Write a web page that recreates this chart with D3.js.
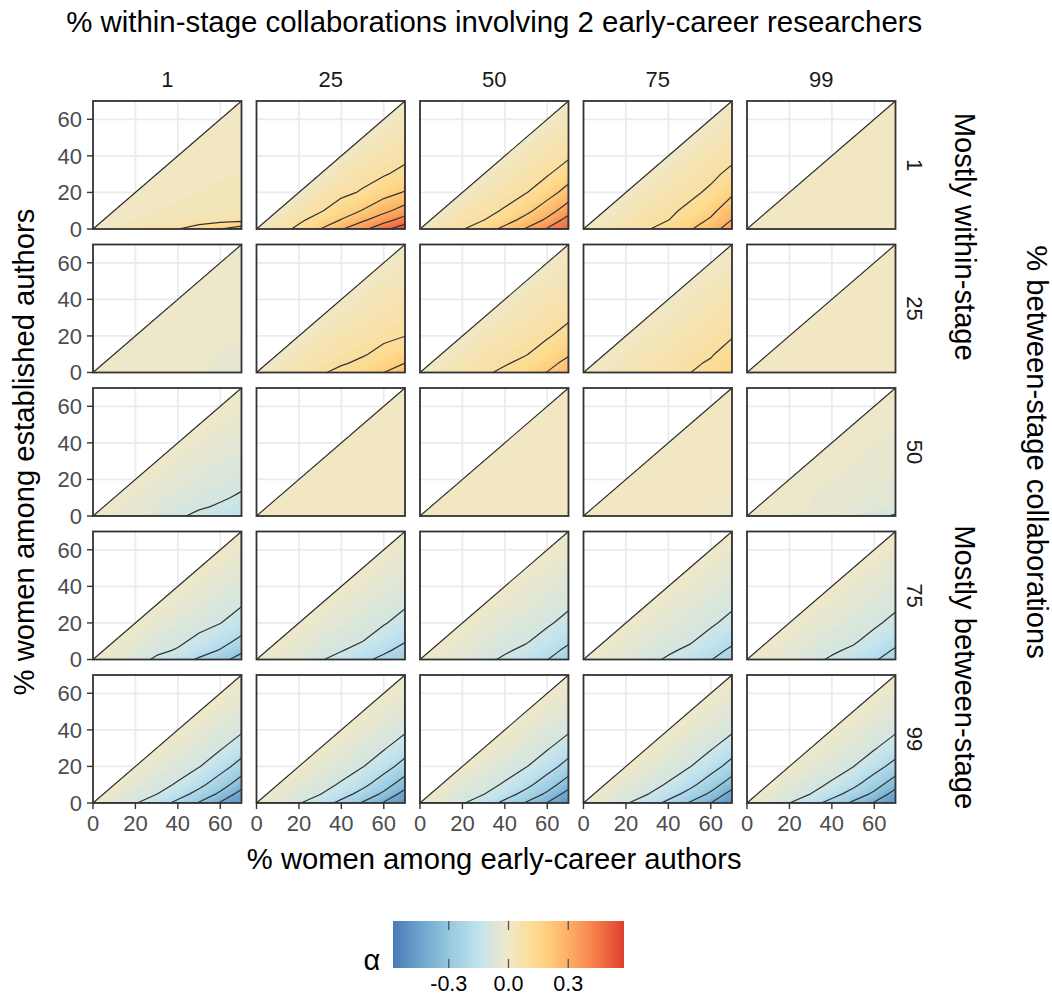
<!DOCTYPE html>
<html>
<head>
<meta charset="utf-8">
<script src="https://cdn.jsdelivr.net/npm/d3@7"></script>
<style>
body { margin: 0; background: #fff; }
text { font-family: "Liberation Sans", Arial, sans-serif; }
</style>
</head>
<body>
<div id="chart"></div>
<script>
// facet levels
var withinLevels = ["1", "25", "50", "75", "99"];
var betweenLevels = ["1", "25", "50", "75", "99"];
var xTicks = [0, 20, 40, 60];
var yTicks = [0, 20, 40, 60];
var legendTicks = [-0.3, 0.0, 0.3];
var contourLevels = [-0.5, -0.4, -0.3, -0.2, -0.1, 0.1, 0.2, 0.3, 0.4, 0.5];

var xGrid = [0, 10, 20, 30, 40, 50, 60, 70];
var yGrid = [0, 5, 10, 20, 30, 40, 50, 60, 70];

// alpha, one row per yGrid value, holding the x values >= y (up to 70)
// b = % between-stage row, w = % within-stage column
var b1_w1 = [[0, 0.024, 0.049, 0.073, 0.098, 0.147, 0.2, 0.26],
	[0.01, 0.02, 0.03, 0.04, 0.05, 0.06, 0.07],
	[0, 0.012, 0.02, 0.025, 0.03, 0.035, 0.04],
	[0, 0.01, 0.015, 0.02, 0.025, 0.03],
	[0, 0.01, 0.015, 0.017, 0.02],
	[0, 0.008, 0.012, 0.015],
	[0, 0.006, 0.01],
	[0, 0.005],
	[0]];
var b1_w2 = [[0, 0.058, 0.122, 0.2, 0.293, 0.373, 0.477, 0.56],
	[0.029, 0.082, 0.139, 0.204, 0.283, 0.358, 0.442],
	[0, 0.055, 0.091, 0.149, 0.205, 0.275, 0.344],
	[0, 0.046, 0.078, 0.109, 0.162, 0.207],
	[0, 0.039, 0.069, 0.092, 0.128],
	[0, 0.034, 0.061, 0.076],
	[0, 0.031, 0.05],
	[0, 0.026],
	[0]];
var b1_w3 = [[0, 0.048, 0.095, 0.156, 0.225, 0.309, 0.41, 0.49],
	[0.024, 0.071, 0.097, 0.16, 0.231, 0.317, 0.44],
	[0, 0.048, 0.077, 0.108, 0.175, 0.255, 0.355],
	[0, 0.039, 0.068, 0.096, 0.16, 0.239],
	[0, 0.034, 0.064, 0.092, 0.154],
	[0, 0.032, 0.062, 0.086],
	[0, 0.031, 0.058],
	[0, 0.029],
	[0]];
var b1_w4 = [[0, 0.031, 0.062, 0.093, 0.139, 0.19, 0.26, 0.35],
	[0.016, 0.047, 0.078, 0.098, 0.154, 0.211, 0.302],
	[0, 0.031, 0.062, 0.084, 0.119, 0.176, 0.26],
	[0, 0.031, 0.056, 0.08, 0.116, 0.184],
	[0, 0.028, 0.053, 0.08, 0.123],
	[0, 0.027, 0.053, 0.078],
	[0, 0.027, 0.052],
	[0, 0.026],
	[0]];
var b1_w5 = [[0, 0, 0, 0, 0, 0, 0, 0],
	[0, 0, 0, 0, 0, 0, 0],
	[0, 0, 0, 0, 0, 0, 0],
	[0, 0, 0, 0, 0, 0],
	[0, 0, 0, 0, 0],
	[0, 0, 0, 0],
	[0, 0, 0],
	[0, 0],
	[0]];

var b2_w1 = [[0, -0.003, -0.006, -0.01, -0.014, -0.019, -0.025, -0.035],
	[-0.002, -0.005, -0.009, -0.013, -0.017, -0.022, -0.03],
	[0, -0.004, -0.008, -0.012, -0.016, -0.02, -0.026],
	[0, -0.004, -0.008, -0.012, -0.016, -0.02],
	[0, -0.004, -0.008, -0.011, -0.015],
	[0, -0.003, -0.007, -0.01],
	[0, -0.003, -0.006],
	[0, -0.003],
	[0]];
var b2_w2 = [[0, 0.03, 0.059, 0.089, 0.124, 0.162, 0.2, 0.25],
	[0.015, 0.044, 0.074, 0.092, 0.117, 0.161, 0.201],
	[0, 0.03, 0.059, 0.079, 0.093, 0.121, 0.166],
	[0, 0.03, 0.053, 0.069, 0.085, 0.099],
	[0, 0.026, 0.046, 0.063, 0.079],
	[0, 0.023, 0.042, 0.059],
	[0, 0.021, 0.04],
	[0, 0.02],
	[0]];
var b2_w3 = [[0, 0.028, 0.057, 0.085, 0.12, 0.162, 0.203, 0.27],
	[0.014, 0.043, 0.071, 0.092, 0.125, 0.171, 0.228],
	[0, 0.028, 0.057, 0.079, 0.096, 0.139, 0.19],
	[0, 0.028, 0.053, 0.072, 0.092, 0.131],
	[0, 0.026, 0.048, 0.069, 0.089],
	[0, 0.024, 0.046, 0.067],
	[0, 0.023, 0.045],
	[0, 0.022],
	[0]];
var b2_w4 = [[0, 0.02, 0.039, 0.059, 0.078, 0.098, 0.133, 0.17],
	[0.01, 0.029, 0.049, 0.068, 0.088, 0.108, 0.15],
	[0, 0.02, 0.039, 0.059, 0.078, 0.094, 0.13],
	[0, 0.02, 0.039, 0.059, 0.075, 0.095],
	[0, 0.02, 0.039, 0.056, 0.076],
	[0, 0.02, 0.037, 0.057],
	[0, 0.019, 0.038],
	[0, 0.019],
	[0]];
var b2_w5 = [[0, 0, 0, 0, 0, 0, 0, 0],
	[0, 0, 0, 0, 0, 0, 0],
	[0, 0, 0, 0, 0, 0, 0],
	[0, 0, 0, 0, 0, 0],
	[0, 0, 0, 0, 0],
	[0, 0, 0, 0],
	[0, 0, 0],
	[0, 0],
	[0]];

var b3_w1 = [[0, -0.023, -0.046, -0.068, -0.091, -0.114, -0.137, -0.16],
	[-0.011, -0.034, -0.057, -0.08, -0.093, -0.107, -0.134],
	[0, -0.023, -0.045, -0.068, -0.083, -0.093, -0.108],
	[0, -0.023, -0.045, -0.062, -0.074, -0.085],
	[0, -0.023, -0.041, -0.056, -0.068],
	[0, -0.021, -0.037, -0.051],
	[0, -0.019, -0.034],
	[0, -0.017],
	[0]];
var b3_w2 = [[0, 0, 0, 0, 0, 0, 0, 0],
	[0, 0, 0, 0, 0, 0, 0],
	[0, 0, 0, 0, 0, 0, 0],
	[0, 0, 0, 0, 0, 0],
	[0, 0, 0, 0, 0],
	[0, 0, 0, 0],
	[0, 0, 0],
	[0, 0],
	[0]];
var b3_w3 = [[0, 0, 0, 0, 0, 0, 0, 0],
	[0, 0, 0, 0, 0, 0, 0],
	[0, 0, 0, 0, 0, 0, 0],
	[0, 0, 0, 0, 0, 0],
	[0, 0, 0, 0, 0],
	[0, 0, 0, 0],
	[0, 0, 0],
	[0, 0],
	[0]];
var b3_w4 = [[0, 0, 0, 0, 0, 0, 0, -0.01],
	[0, 0, 0, 0, 0, 0, -0.005],
	[0, 0, 0, 0, 0, 0, 0],
	[0, 0, 0, 0, 0, 0],
	[0, 0, 0, 0, 0],
	[0, 0, 0, 0],
	[0, 0, 0],
	[0, 0],
	[0]];
var b3_w5 = [[0, -0.01, -0.02, -0.03, -0.045, -0.06, -0.08, -0.11],
	[-0.005, -0.01, -0.02, -0.03, -0.04, -0.05, -0.065],
	[0, -0.01, -0.02, -0.03, -0.035, -0.045, -0.055],
	[0, -0.01, -0.02, -0.025, -0.035, -0.045],
	[0, -0.01, -0.02, -0.03, -0.035],
	[0, -0.01, -0.02, -0.025],
	[0, -0.01, -0.017],
	[0, -0.008],
	[0]];

var b4_w1 = [[0, -0.036, -0.072, -0.112, -0.161, -0.212, -0.269, -0.34],
	[-0.018, -0.054, -0.085, -0.106, -0.161, -0.206, -0.28],
	[0, -0.036, -0.068, -0.087, -0.117, -0.167, -0.223],
	[0, -0.034, -0.058, -0.079, -0.098, -0.148],
	[0, -0.029, -0.052, -0.074, -0.094],
	[0, -0.026, -0.049, -0.07],
	[0, -0.025, -0.047],
	[0, -0.023],
	[0]];
var b4_w2 = [[0, -0.031, -0.061, -0.092, -0.133, -0.179, -0.224, -0.27],
	[-0.015, -0.046, -0.077, -0.095, -0.137, -0.182, -0.232],
	[0, -0.031, -0.061, -0.081, -0.099, -0.148, -0.195],
	[0, -0.031, -0.054, -0.074, -0.093, -0.134],
	[0, -0.027, -0.049, -0.07, -0.09],
	[0, -0.025, -0.047, -0.067],
	[0, -0.023, -0.045],
	[0, -0.022],
	[0]];
var b4_w3 = [[0, -0.027, -0.054, -0.081, -0.112, -0.155, -0.198, -0.26],
	[-0.013, -0.04, -0.067, -0.09, -0.117, -0.166, -0.222],
	[0, -0.027, -0.054, -0.077, -0.093, -0.133, -0.187],
	[0, -0.027, -0.051, -0.07, -0.089, -0.126],
	[0, -0.026, -0.047, -0.067, -0.087],
	[0, -0.023, -0.045, -0.066],
	[0, -0.022, -0.044],
	[0, -0.022],
	[0]];
var b4_w4 = [[0, -0.026, -0.053, -0.08, -0.11, -0.152, -0.196, -0.255],
	[-0.013, -0.04, -0.066, -0.089, -0.115, -0.163, -0.218],
	[0, -0.027, -0.053, -0.076, -0.092, -0.131, -0.183],
	[0, -0.027, -0.05, -0.069, -0.088, -0.125],
	[0, -0.026, -0.047, -0.066, -0.087],
	[0, -0.023, -0.045, -0.066],
	[0, -0.022, -0.044],
	[0, -0.022],
	[0]];
var b4_w5 = [[0, -0.027, -0.054, -0.08, -0.11, -0.15, -0.19, -0.245],
	[-0.013, -0.04, -0.066, -0.089, -0.113, -0.16, -0.21],
	[0, -0.027, -0.053, -0.075, -0.09, -0.128, -0.178],
	[0, -0.027, -0.05, -0.068, -0.087, -0.122],
	[0, -0.026, -0.047, -0.065, -0.085],
	[0, -0.023, -0.045, -0.065],
	[0, -0.022, -0.044],
	[0, -0.022],
	[0]];

var b5_w1 = [[0, -0.048, -0.095, -0.156, -0.225, -0.309, -0.41, -0.49],
	[-0.024, -0.071, -0.097, -0.16, -0.231, -0.317, -0.44],
	[0, -0.048, -0.077, -0.108, -0.175, -0.255, -0.355],
	[0, -0.039, -0.068, -0.096, -0.16, -0.239],
	[0, -0.034, -0.064, -0.092, -0.154],
	[0, -0.032, -0.062, -0.086],
	[0, -0.031, -0.058],
	[0, -0.029],
	[0]];
var b5_w2 = [[0, -0.047, -0.094, -0.155, -0.226, -0.31, -0.41, -0.49],
	[-0.024, -0.07, -0.096, -0.16, -0.231, -0.318, -0.44],
	[0, -0.048, -0.077, -0.108, -0.175, -0.256, -0.357],
	[0, -0.039, -0.068, -0.096, -0.16, -0.239],
	[0, -0.034, -0.064, -0.092, -0.154],
	[0, -0.032, -0.062, -0.086],
	[0, -0.031, -0.058],
	[0, -0.029],
	[0]];
var b5_w3 = [[0, -0.046, -0.093, -0.154, -0.224, -0.308, -0.405, -0.49],
	[-0.023, -0.07, -0.096, -0.159, -0.23, -0.316, -0.44],
	[0, -0.048, -0.077, -0.108, -0.174, -0.254, -0.355],
	[0, -0.039, -0.068, -0.096, -0.159, -0.238],
	[0, -0.034, -0.064, -0.092, -0.154],
	[0, -0.032, -0.062, -0.086],
	[0, -0.031, -0.058],
	[0, -0.029],
	[0]];
var b5_w4 = [[0, -0.046, -0.092, -0.153, -0.224, -0.308, -0.4, -0.49],
	[-0.023, -0.069, -0.095, -0.159, -0.23, -0.316, -0.44],
	[0, -0.047, -0.076, -0.107, -0.174, -0.254, -0.355],
	[0, -0.039, -0.068, -0.096, -0.159, -0.238],
	[0, -0.034, -0.064, -0.092, -0.154],
	[0, -0.032, -0.062, -0.086],
	[0, -0.031, -0.058],
	[0, -0.029],
	[0]];
var b5_w5 = [[0, -0.05, -0.1, -0.165, -0.235, -0.32, -0.41, -0.49],
	[-0.025, -0.074, -0.1, -0.165, -0.235, -0.32, -0.44],
	[0, -0.05, -0.079, -0.11, -0.178, -0.258, -0.36],
	[0, -0.04, -0.07, -0.098, -0.162, -0.235],
	[0, -0.035, -0.065, -0.093, -0.15],
	[0, -0.032, -0.062, -0.086],
	[0, -0.031, -0.058],
	[0, -0.029],
	[0]];

var panelRows = [
	[b1_w1, b1_w2, b1_w3, b1_w4, b1_w5],
	[b2_w1, b2_w2, b2_w3, b2_w4, b2_w5],
	[b3_w1, b3_w2, b3_w3, b3_w4, b3_w5],
	[b4_w1, b4_w2, b4_w3, b4_w4, b4_w5],
	[b5_w1, b5_w2, b5_w3, b5_w4, b5_w5]
];

//frame
var width = 1052, height = 997;
var panelW = 148.5, panelH = 128;
var stepX = 163.5, stepY = 143.5;
var left0 = 93, top0 = 101;

var svg = d3.select("#chart").append("svg")
	.attr("width", width)
	.attr("height", height);

//colour scale (blue - beige - red)
var colour = d3.scaleLinear()
	.domain([-0.58, -0.435, -0.29, -0.145, 0, 0.145, 0.29, 0.435, 0.58])
	.range(["#4a7bb7", "#6ea6cd", "#98cae1", "#c2e4ef", "#f0e8c6", "#feda8b", "#fdb366", "#f67e4b", "#dd3d2d"])
	.interpolate(d3.interpolateLab)
	.clamp(true);

//scales inside one panel
var xScale = d3.scaleLinear().domain([0, 70]).range([0, panelW]);
var yScale = d3.scaleLinear().domain([0, 70]).range([panelH, 0]);
// grid index -> data value (contour coords have sample i at i + 0.5)
var xIndex = d3.scaleLinear().domain(d3.range(xGrid.length)).range(xGrid).clamp(true);
var yIndex = d3.scaleLinear().domain(d3.range(yGrid.length)).range(yGrid).clamp(true);

var gridPath = d3.geoPath(d3.geoTransform({
	point: function(x, y) {
		this.stream.point(xScale(xIndex(x - 0.5)), yScale(yIndex(y - 0.5)));
	}
}));

var nx = xGrid.length, ny = yGrid.length;
function toGrid(rows) {
	var vals = new Array(nx * ny).fill(0);
	rows.forEach(function(row, j) {
		var start = nx - row.length;
		row.forEach(function(v, k) { vals[j * nx + start + k] = v; });
	});
	return vals;
}

var bandThresholds = d3.range(-0.62, 0.62, 0.02);

svg.append("defs").append("clipPath").attr("id", "tri")
	.append("path")
	.attr("d", "M" + xScale(0) + "," + yScale(0) + "L" + xScale(70) + "," + yScale(0) +
		"L" + xScale(70) + "," + yScale(70) + "Z");

panelRows.forEach(function(row, r) {
	row.forEach(function(rows, c) {
		var g = svg.append("g")
			.attr("transform", "translate(" + (left0 + c * stepX) + "," + (top0 + r * stepY) + ")");

		g.append("rect").attr("width", panelW).attr("height", panelH).attr("fill", "#fff");

		// grid lines
		g.selectAll(".gx").data(xTicks.slice(1)).join("line")
			.attr("x1", xScale).attr("x2", xScale)
			.attr("y1", 0).attr("y2", panelH)
			.attr("stroke", "#ebebeb").attr("stroke-width", 1.8);
		g.selectAll(".gy").data(yTicks.slice(1)).join("line")
			.attr("class", "gy")
			.attr("x1", 0).attr("x2", panelW)
			.attr("y1", yScale).attr("y2", yScale)
			.attr("stroke", "#ebebeb").attr("stroke-width", 1.8);

		var values = toGrid(rows);
		var minV = d3.min(values);

		var tri = g.append("g").attr("clip-path", "url(#tri)");

		//filled bands
		var bands = d3.contours().size([nx, ny]).thresholds(bandThresholds)(values)
			.filter(function(d) { return d.coordinates.length; });
		tri.selectAll(".band").data(bands).join("path")
			.attr("d", gridPath)
			.attr("fill", function(d) { return colour(d.value + 0.01); });

		//contour lines
		var lines = d3.contours().size([nx, ny]).thresholds(contourLevels)(values)
			.filter(function(d) { return d.coordinates.length && !(d.value < 0 && minV >= d.value); });
		tri.selectAll(".iso").data(lines).join("path")
			.attr("d", gridPath)
			.attr("fill", "none")
			.attr("stroke", "#333")
			.attr("stroke-width", 1.2)
			.attr("stroke-linejoin", "round");

		//diagonal
		g.append("line")
			.attr("x1", xScale(0)).attr("y1", yScale(0))
			.attr("x2", xScale(70)).attr("y2", yScale(70))
			.attr("stroke", "#2b2b2b").attr("stroke-width", 1.1);

		//border
		g.append("rect").attr("width", panelW).attr("height", panelH)
			.attr("fill", "none").attr("stroke", "#333").attr("stroke-width", 1.8);

		//y axis on first column
		if (c == 0) {
			g.selectAll(".ty").data(yTicks).join("line")
				.attr("x1", -6).attr("x2", 0)
				.attr("y1", yScale).attr("y2", yScale)
				.attr("stroke", "#333").attr("stroke-width", 1.4);
			g.selectAll(".ly").data(yTicks).join("text")
				.attr("x", -11).attr("y", yScale).attr("dy", "0.36em")
				.attr("text-anchor", "end")
				.attr("fill", "#4d4d4d").style("font-size", "22px")
				.text(function(d) { return d; });
		}
		//x axis on last row
		if (r == panelRows.length - 1) {
			g.selectAll(".tx").data(xTicks).join("line")
				.attr("x1", xScale).attr("x2", xScale)
				.attr("y1", panelH).attr("y2", panelH + 6)
				.attr("stroke", "#333").attr("stroke-width", 1.4);
			g.selectAll(".lx").data(xTicks).join("text")
				.attr("x", xScale).attr("y", panelH + 28)
				.attr("text-anchor", "middle")
				.attr("fill", "#4d4d4d").style("font-size", "22px")
				.text(function(d) { return d; });
		}
	});
});

//strip labels
svg.selectAll(".stripTop").data(withinLevels).join("text")
	.attr("x", function(d, i) { return left0 + i * stepX + panelW / 2; })
	.attr("y", 87)
	.attr("text-anchor", "middle")
	.attr("fill", "#1a1a1a").style("font-size", "22px")
	.text(function(d) { return d; });

svg.selectAll(".stripRight").data(betweenLevels).join("text")
	.attr("transform", function(d, i) {
		return "translate(" + 907 + "," + (top0 + i * stepY + panelH / 2) + ") rotate(90)";
	})
	.attr("text-anchor", "middle")
	.attr("fill", "#1a1a1a").style("font-size", "22px")
	.text(function(d) { return d; });

//titles
var midX = left0 + (4 * stepX + panelW) / 2;
var midY = top0 + (4 * stepY + panelH) / 2;

svg.append("text")
	.attr("x", midX).attr("y", 32)
	.attr("text-anchor", "middle").style("font-size", "29.4px")
	.text("% within-stage collaborations involving 2 early-career researchers");

svg.append("text")
	.attr("x", midX).attr("y", 869)
	.attr("text-anchor", "middle").style("font-size", "29.2px")
	.text("% women among early-career authors");

svg.append("text")
	.attr("transform", "translate(34," + midY + ") rotate(-90)")
	.attr("text-anchor", "middle").style("font-size", "29.2px")
	.text("% women among established authors");

svg.append("text")
	.attr("transform", "translate(955," + (top0 + (stepY + panelH) / 2) + ") rotate(90)")
	.attr("text-anchor", "middle").style("font-size", "29.2px")
	.text("Mostly within-stage");

svg.append("text")
	.attr("transform", "translate(955," + (top0 + 3 * stepY + (stepY + panelH) / 2) + ") rotate(90)")
	.attr("text-anchor", "middle").style("font-size", "29.2px")
	.text("Mostly between-stage");

svg.append("text")
	.attr("transform", "translate(1027," + midY + ") rotate(90)")
	.attr("text-anchor", "middle").style("font-size", "29.2px")
	.text("% between-stage collaborations");

//legend
var legX = d3.scaleLinear().domain([-0.58, 0.58]).range([393, 624]);
var legTop = 921, legH = 47;

var grad = svg.select("defs").append("linearGradient").attr("id", "legGrad");
d3.range(0, 1.0001, 0.05).forEach(function(t) {
	grad.append("stop")
		.attr("offset", (t * 100) + "%")
		.attr("stop-color", colour(-0.58 + t * 1.16));
});

svg.append("rect")
	.attr("x", legX(-0.58)).attr("y", legTop)
	.attr("width", legX(0.58) - legX(-0.58)).attr("height", legH)
	.attr("fill", "url(#legGrad)");

legendTicks.forEach(function(t) {
	svg.append("line")
		.attr("x1", legX(t)).attr("x2", legX(t))
		.attr("y1", legTop).attr("y2", legTop + 9)
		.attr("stroke", "#555").attr("stroke-width", 1.3);
	svg.append("line")
		.attr("x1", legX(t)).attr("x2", legX(t))
		.attr("y1", legTop + legH - 9).attr("y2", legTop + legH)
		.attr("stroke", "#555").attr("stroke-width", 1.3);
	svg.append("text")
		.attr("x", legX(t)).attr("y", 991)
		.attr("text-anchor", "middle").style("font-size", "21.5px")
		.text(d3.format(".1f")(t).replace("−", "-"));
});

svg.append("text")
	.attr("x", 372).attr("y", 970)
	.attr("text-anchor", "middle").style("font-size", "29px")
	.text("α");
</script>
</body>
</html>
